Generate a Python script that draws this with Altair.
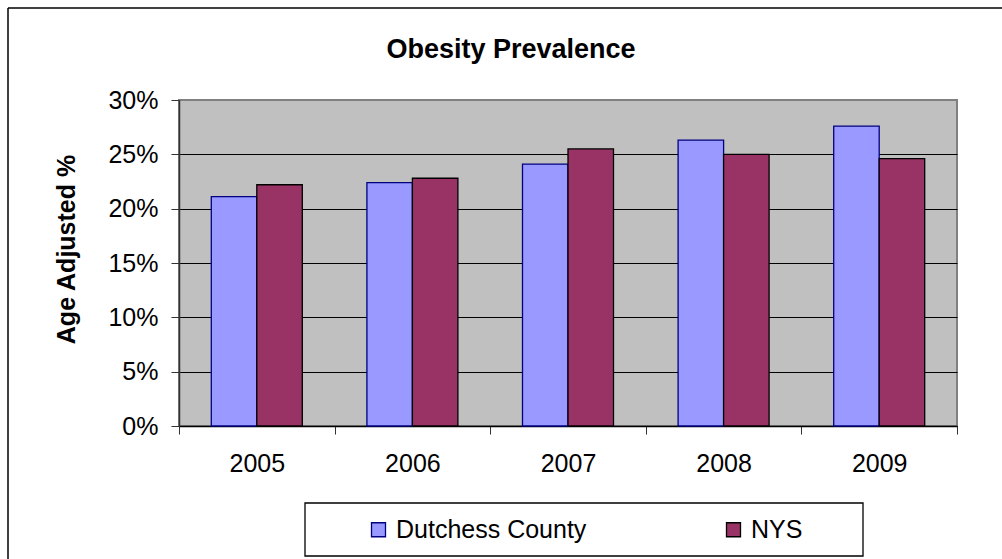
import altair as alt
import pandas as pd

# Obesity prevalence, age adjusted, Dutchess County vs New York State
years = ["2005", "2006", "2007", "2008", "2009"]
series = ["Dutchess County", "NYS"]
dutchess = [21.1, 22.4, 24.1, 26.3, 27.6]
nys = [22.2, 22.8, 25.5, 25.0, 24.6]
y_ticks = [0, 5, 10, 15, 20, 25, 30]

fills = ["#9999FF", "#993366"]
strokes = ["#000080", "#000000"]
FONT = "Liberation Sans"

rows = []
for i, yr in enumerate(years):
    rows.append({"year": yr, "series": series[0], "value": dutchess[i]})
    rows.append({"year": yr, "series": series[1], "value": nys[i]})
df = pd.DataFrame(rows)

legend = alt.Legend(
    title=None,
    orient="none",
    legendX=187,
    legendY=417,
    direction="horizontal",
    symbolType="square",
    symbolSize=196,
    symbolStrokeWidth=1.3,
    symbolOpacity=1,
    labelFontSize=25,
    labelFont=FONT,
    labelColor="black",
    labelLimit=400,
    labelOffset=5,
    columnPadding=134,
    padding=0,
)

bars = alt.Chart(df).mark_bar(strokeWidth=1.3, opacity=1).encode(
    x=alt.X(
        "year:N",
        sort=years,
        scale=alt.Scale(paddingInner=0, paddingOuter=0),
        axis=alt.Axis(
            title=None,
            labelAngle=0,
            tickBand="extent",
            tickSize=8,
            tickColor="#333333",
            domainColor="black",
            domainWidth=1.5,
            labelFontSize=25,
            labelFont=FONT,
            labelColor="black",
            labelPadding=17,
            grid=False,
        ),
    ),
    # each year's band holds the two bars with gaps on either side
    xOffset=alt.XOffset(
        "series:N", sort=series, scale=alt.Scale(paddingInner=0, paddingOuter=0.71)
    ),
    y=alt.Y(
        "value:Q",
        scale=alt.Scale(domain=[0, 30], nice=False),
        axis=alt.Axis(
            title="Age Adjusted %",
            titleFont=FONT,
            titleFontSize=25,
            titleFontWeight="bold",
            titleColor="black",
            titleX=-113,
            titleY=149,
            titleBaseline="middle",
            titleAngle=270,
            values=y_ticks,
            labelExpr="datum.value + '%'",
            labelFontSize=25,
            labelFont=FONT,
            labelColor="black",
            labelPadding=13,
            tickSize=8,
            tickColor="#333333",
            domainColor="#333333",
            domainWidth=1.5,
            grid=True,
            gridColor={"condition": {"test": "datum.value >= 30", "value": "#808080"}, "value": "#000000"},
            gridWidth=1,
        ),
    ),
    fill=alt.Fill("series:N", sort=series, scale=alt.Scale(domain=series, range=fills), legend=legend),
    stroke=alt.Stroke("series:N", sort=series, scale=alt.Scale(domain=series, range=strokes), legend=legend),
)

frame_src = pd.DataFrame({"k": [0]})

# outer chart border: top and left edges (the rest runs off the page)
outer_top = alt.Chart(frame_src).mark_rule(color="black", strokeWidth=1.5).encode(
    x=alt.value(-171), x2=alt.value(823), y=alt.value(-92)
)
outer_left = alt.Chart(frame_src).mark_rule(color="black", strokeWidth=1.5).encode(
    x=alt.value(-171), y=alt.value(-92), y2=alt.value(459)
)

# legend box
legend_box = alt.Chart(frame_src).mark_rect(fill="white", fillOpacity=0, stroke="black", strokeWidth=1.3).encode(
    x=alt.value(126), x2=alt.value(684), y=alt.value(403), y2=alt.value(456)
)

chart = alt.layer(bars, outer_top, outer_left, legend_box).properties(
    width=778,
    height=326,
    padding={"left": 179, "top": 100, "right": 45, "bottom": 133},
    autosize=alt.AutoSizeParams(type="none"),
    background="white",
    title=alt.Title(
        "Obesity Prevalence",
        font=FONT,
        fontSize=27,
        fontWeight="bold",
        color="black",
        anchor="middle",
        dx=-57,
        offset=-78,
        baseline="alphabetic",
    ),
).configure_view(
    fill="#C0C0C0", stroke="#808080", strokeWidth=2
)

chart.save("out.html", embed_options={"renderer": "svg", "actions": False})
